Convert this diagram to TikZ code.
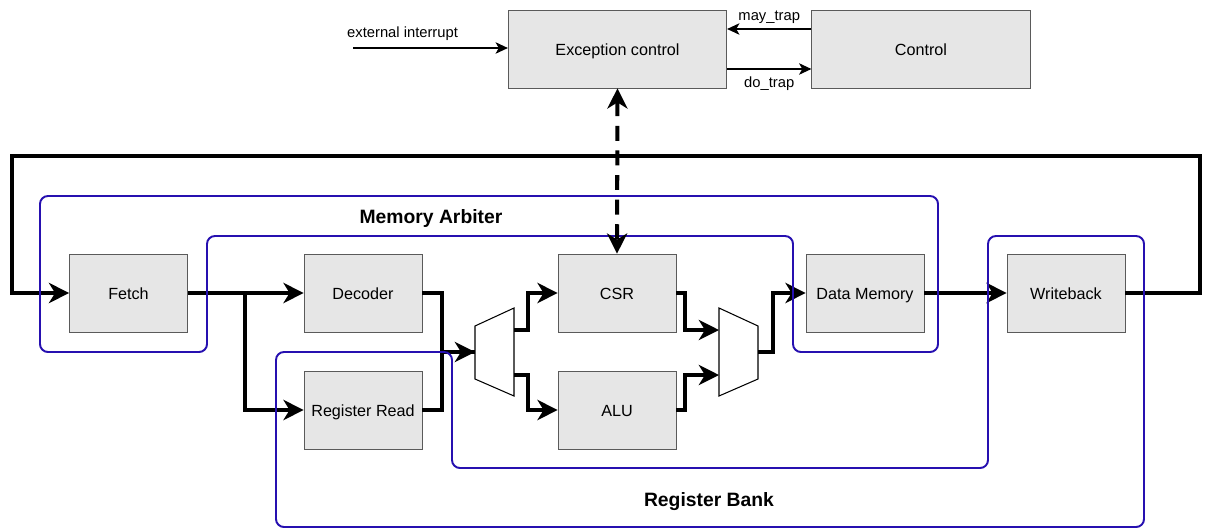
\documentclass[tikz,border=0pt]{standalone}
\usepackage{fontspec}
\setmainfont{Liberation Sans}
\usepackage{xcolor}
\usepackage{tikz}
\usetikzlibrary{arrows.meta}
\definecolor{stagegray}{RGB}{230,230,230}
\definecolor{edgegray}{RGB}{90,90,90}
\definecolor{arbblue}{RGB}{38,16,176}

\begin{document}
\begin{tikzpicture}[
  stage/.style={draw=edgegray, fill=stagegray, minimum width=2.36cm,
                minimum height=1.56cm, align=center, inner sep=0pt,
                text height=0.95em, text depth=0.18em,
                font=\fontsize{9.2}{11}\selectfont},
  ctlbox/.style={stage, minimum width=4.37cm},
  bus/.style={-{Stealth[length=11.5pt,width=11.5pt,inset=3.5pt]}, line width=2.3pt},
  busline/.style={line width=2.3pt},
  trapbus/.style={{Stealth[length=11.5pt,width=11.5pt,inset=3.5pt]}-{Stealth[length=11.5pt,width=11.5pt,inset=3.5pt]},
                  line width=2.3pt, dash pattern=on 8.5pt off 5.5pt},
  sig/.style={-{Stealth[length=7pt,width=6.5pt,inset=1.8pt]}, line width=0.85pt},
  note/.style={font=\fontsize{8.4}{10}\selectfont, inner sep=1pt,
               text height=0.95em, text depth=0.18em},
  region/.style={draw=arbblue, line width=1.1pt, rounded corners=4.5pt},
  regname/.style={font=\fontsize{11}{13}\selectfont\bfseries},
  mux/.style={draw=black, line width=0.6pt, fill=white}
]
  \useasboundingbox (0,0) rectangle (24.1,-10.56);

  % control side
  \node[ctlbox] (exc) at (12.35,-0.98) {Exception control};
  \node[ctlbox] (ctrl) at (18.42,-0.98) {Control};
  \coordinate (extin) at (7.06,-0.96);
  \draw[sig] (extin) -- node[note, above=3pt, pos=0.32] {external interrupt} (extin -| exc.west);
  \draw[sig] ([yshift=0.4cm]ctrl.west) -- node[note, above=1.6pt] {may\_trap} ([yshift=0.4cm]exc.east);
  \draw[sig] ([yshift=-0.4cm]exc.east) -- node[note, below=-0.5pt] {do\_trap} ([yshift=-0.4cm]ctrl.west);

  % pipeline stages
  \node[stage] (fetch) at (2.57,-5.86) {Fetch};
  \node[stage] (decoder) at (7.26,-5.86) {Decoder};
  \node[stage] (regread) at (7.26,-8.2) {Register Read};
  \node[stage] (csr) at (12.34,-5.86) {CSR};
  \node[stage] (alu) at (12.34,-8.2) {ALU};
  \node[stage] (datamem) at (17.3,-5.86) {Data Memory};
  \node[stage] (wb) at (21.32,-5.86) {Writeback};

  % muxes
  \draw[mux] (9.5,-6.52) -- (10.28,-6.16) -- (10.28,-7.92) -- (9.5,-7.58) -- cycle;
  \draw[mux] (14.38,-6.16) -- (15.16,-6.52) -- (15.16,-7.58) -- (14.38,-7.92) -- cycle;
  \coordinate (muxAin) at (9.5,-7.04);
  \coordinate (muxAtop) at (10.28,-6.6);
  \coordinate (muxAbot) at (10.28,-7.5);
  \coordinate (muxBtop) at (14.38,-6.6);
  \coordinate (muxBbot) at (14.38,-7.5);
  \coordinate (muxBout) at (15.16,-7.04);

  % datapath
  \coordinate (split) at (4.9,-5.86);
  \draw[bus] (fetch) -- (decoder);
  \draw[bus] (split) |- (regread.west);
  \draw[bus] (decoder.east) -- ++(0.4,0) |- (muxAin);
  \draw[busline] (regread.east) -- ++(0.4,0) |- (muxAin);
  \draw[bus] (muxAtop) -- ++(0.28,0) |- (csr.west);
  \draw[bus] (muxAbot) -- ++(0.28,0) |- (alu.west);
  \draw[bus] (csr.east) -- ++(0.18,0) |- (muxBtop);
  \draw[bus] (alu.east) -- ++(0.18,0) |- (muxBbot);
  \draw[bus] (muxBout) -- ++(0.3,0) |- (datamem.west);
  \draw[bus] (datamem) -- (wb);
  \coordinate (loopR) at (24.0,-3.12);
  \coordinate (loopL) at (0.24,-3.12);
  \draw[bus] (wb.east) -| (loopR) -- (loopL) |- (fetch.west);

  % shared resources
  \draw[region] (0.8,-3.92) -- (18.76,-3.92) -- (18.76,-7.04) -- (15.86,-7.04)
    -- (15.86,-4.72) -- (4.14,-4.72) -- (4.14,-7.04) -- (0.8,-7.04) -- cycle;
  \node[regname] (arbname) at (8.62,-4.36) {Memory Arbiter};
  \draw[region] (5.52,-7.04) -- (9.04,-7.04) -- (9.04,-9.36) -- (19.76,-9.36)
    -- (19.76,-4.72) -- (22.88,-4.72) -- (22.88,-10.54) -- (5.52,-10.54) -- cycle;
  \node[regname] (bankname) at (14.18,-10.04) {Register Bank};

  \draw[trapbus] (exc.south) -- (csr.north);
\end{tikzpicture}
\end{document}
